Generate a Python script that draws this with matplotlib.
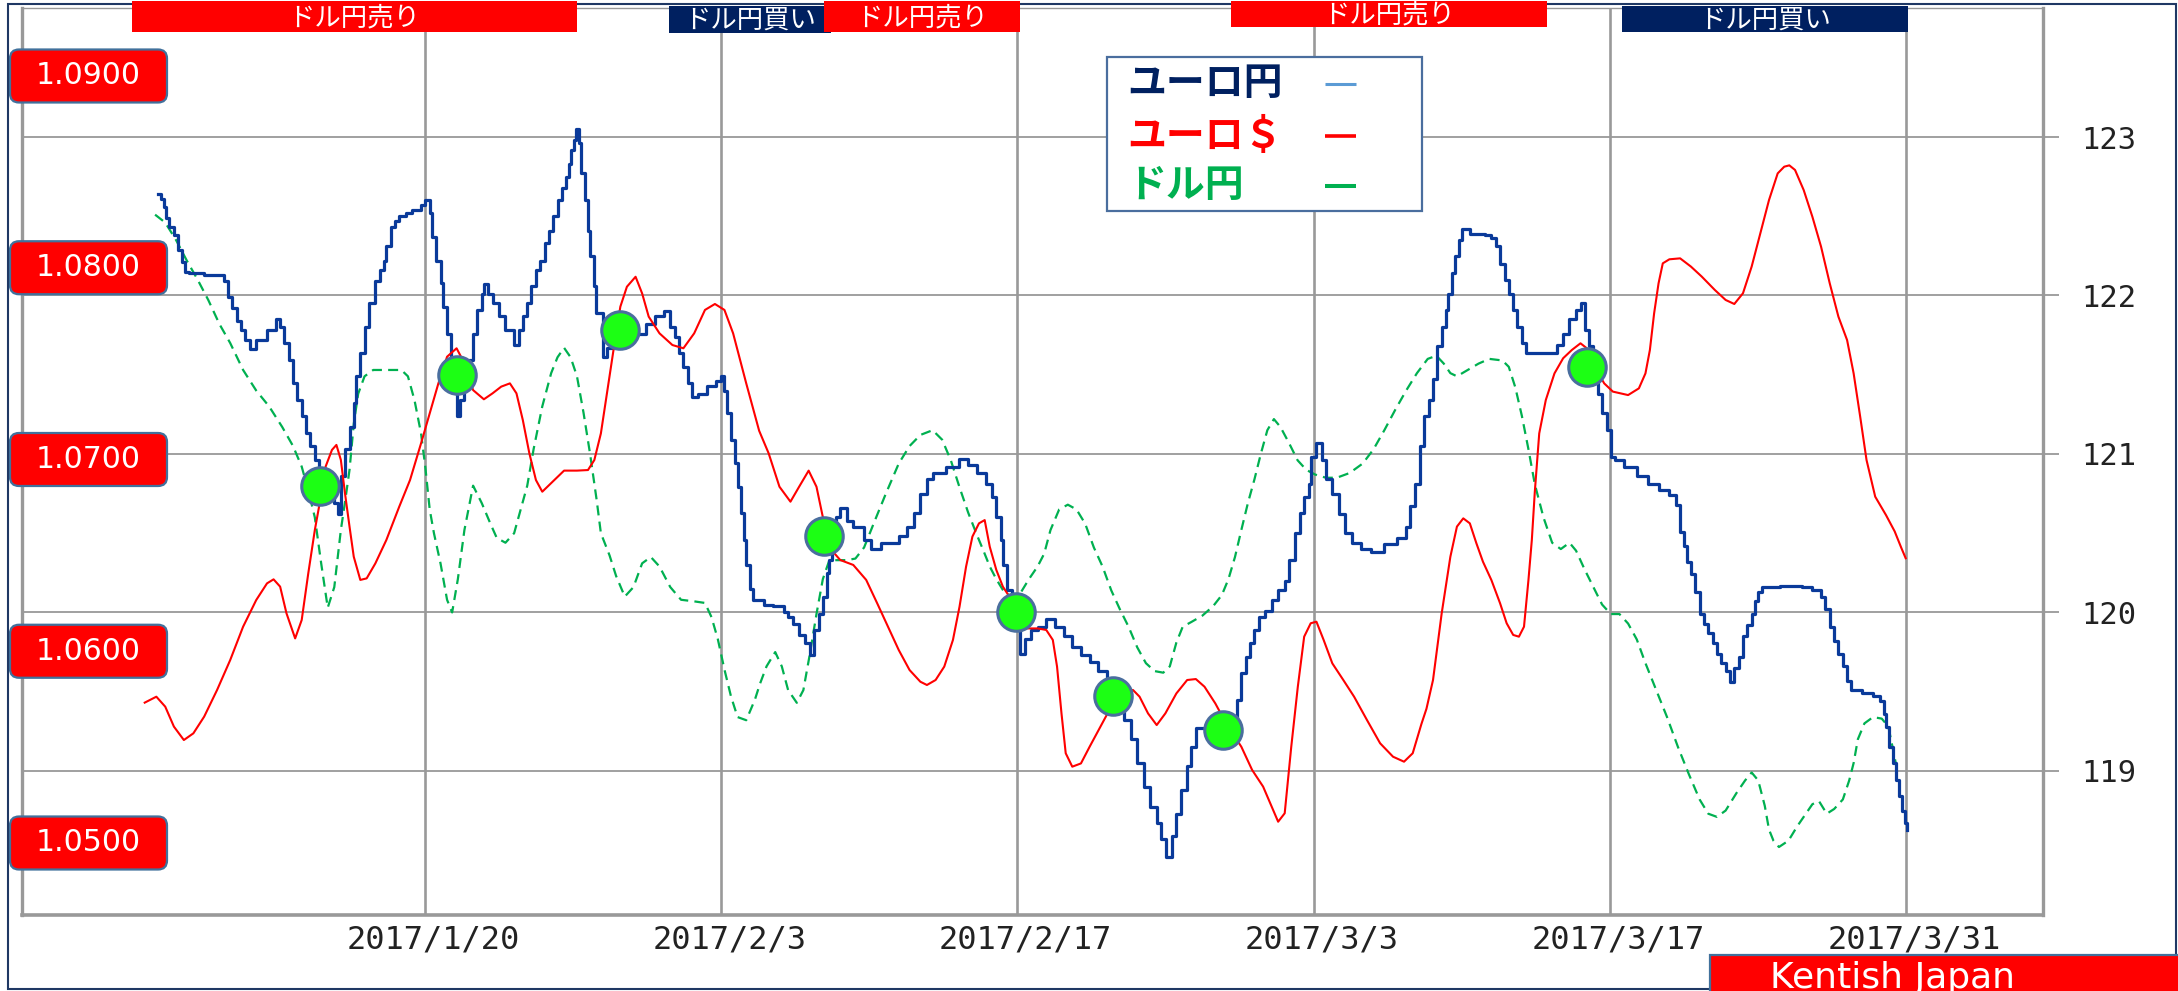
import matplotlib
matplotlib.use("Agg")
import matplotlib.pyplot as plt
import matplotlib.transforms as mtrans
from matplotlib.patches import FancyBboxPatch, Rectangle
from matplotlib.lines import Line2D

plt.rcParams['font.family'] = ['DejaVu Sans', 'Noto Sans CJK JP']

# ---------------- data ----------------
# x positions are day numbers of 2017 (Jan 1 = 1, Feb 3 = 34, Mar 31 = 90)
tick_days = [20, 34, 48, 62, 76, 90]
tick_labels = ['2017/1/20', '2017/2/3', '2017/2/17', '2017/3/3', '2017/3/17', '2017/3/31']
yen_ticks = [119, 120, 121, 122, 123]
eurusd_box_vals = [1.09, 1.08, 1.07, 1.06, 1.05]
eurusd_box_labels = ['1.0900', '1.0800', '1.0700', '1.0600', '1.0500']

# EUR/JPY (right axis)
eurjpy_day = [
    7.37, 7.51, 7.67, 7.76, 7.92, 8.13, 8.33, 8.53, 8.64, 8.84,
    9.56, 10.28, 10.48, 10.69, 10.89, 11.10, 11.30, 11.51, 11.71, 12.02,
    12.53, 12.94, 13.15, 13.35, 13.56, 13.76, 13.97, 14.17, 14.37, 14.58,
    14.79, 14.99, 15.30, 15.50, 15.71, 15.87, 16.02, 16.22, 16.43, 16.63,
    16.73, 16.94, 17.14, 17.35, 17.65, 17.86, 18.06, 18.16, 18.37, 18.58,
    18.78, 19.09, 19.40, 19.81, 20.01, 20.22, 20.32, 20.53, 20.73, 20.83,
    21.04, 21.24, 21.34, 21.49, 21.65, 21.86, 22.06, 22.27, 22.47, 22.68,
    22.80, 22.98, 23.19, 23.50, 23.80, 24.21, 24.42, 24.62, 24.83, 25.03,
    25.24, 25.44, 25.65, 25.85, 26.06, 26.26, 26.47, 26.67, 26.78, 26.88,
    27.02, 27.12, 27.28, 27.39, 27.55, 27.70, 27.80, 28.00, 28.10, 28.41,
    28.61, 29.23, 30.46, 30.87, 31.28, 31.59, 31.80, 32.00, 32.21, 32.41,
    32.61, 32.92, 33.33, 33.74, 34.01, 34.15, 34.25, 34.46, 34.66, 34.80,
    34.95, 35.07, 35.18, 35.38, 35.48, 36.00, 36.45, 36.96, 37.16, 37.37,
    37.68, 37.98, 38.19, 38.39, 38.60, 38.80, 39.01, 39.11, 39.25, 39.42,
    39.62, 39.93, 40.24, 40.75, 41.06, 41.57, 42.39, 42.80, 43.11, 43.41,
    43.72, 44.03, 44.64, 45.22, 45.67, 46.08, 46.49, 46.80, 47.00, 47.21,
    47.31, 47.51, 47.72, 47.92, 48.13, 48.37, 48.64, 48.95, 49.36, 49.77,
    50.18, 50.59, 51.00, 51.41, 51.82, 52.23, 52.64, 53.05, 53.35, 53.66,
    53.97, 54.28, 54.58, 54.79, 55.04, 55.30, 55.51, 55.71, 56.02, 56.22,
    56.43, 57.00, 58.00, 58.37, 58.58, 58.79, 58.99, 59.20, 59.40, 59.71,
    60.02, 60.32, 60.63, 60.83, 61.14, 61.35, 61.55, 61.76, 61.86, 62.10,
    62.37, 62.58, 62.88, 63.19, 63.50, 63.81, 64.22, 64.73, 65.34, 65.96,
    66.37, 66.57, 66.78, 67.02, 67.23, 67.43, 67.64, 67.84, 68.05, 68.25,
    68.36, 68.56, 68.70, 68.87, 69.03, 69.38, 70.10, 70.40, 70.61, 70.81,
    71.02, 71.22, 71.43, 71.63, 71.84, 72.05, 72.76, 73.27, 73.48, 73.79,
    74.09, 74.40, 74.65, 74.81, 75.02, 75.22, 75.43, 75.63, 75.84, 76.04,
    76.25, 76.65, 77.27, 77.78, 78.30, 78.81, 79.11, 79.32, 79.52, 79.63,
    79.83, 80.04, 80.24, 80.45, 80.65, 80.86, 81.06, 81.27, 81.47, 81.68,
    81.88, 82.09, 82.29, 82.50, 82.70, 82.84, 83.01, 83.21, 84.03, 84.75,
    85.06, 85.57, 85.98, 86.19, 86.39, 86.60, 86.80, 87.01, 87.21, 87.41,
    87.93, 88.44, 88.75, 88.95, 89.05, 89.20, 89.36, 89.53, 89.67, 89.81,
    89.94, 90.02]
eurjpy = [
    122.64, 122.61, 122.56, 122.49, 122.43, 122.38, 122.29, 122.21, 122.15, 122.14,
    122.13, 122.13, 122.09, 121.99, 121.92, 121.84, 121.78, 121.72, 121.66, 121.72,
    121.78, 121.85, 121.80, 121.70, 121.59, 121.45, 121.34, 121.24, 121.13, 121.05,
    120.96, 120.85, 120.80, 120.75, 120.69, 120.62, 120.86, 121.03, 121.17, 121.32,
    121.49, 121.64, 121.80, 121.95, 122.09, 122.16, 122.22, 122.31, 122.43, 122.47,
    122.50, 122.52, 122.54, 122.57, 122.60, 122.52, 122.37, 122.22, 122.08, 121.93,
    121.76, 121.59, 121.51, 121.24, 121.34, 121.47, 121.59, 121.76, 121.91, 122.01,
    122.07, 122.01, 121.95, 121.87, 121.78, 121.69, 121.78, 121.87, 121.95, 122.06,
    122.16, 122.22, 122.33, 122.41, 122.50, 122.60, 122.68, 122.75, 122.83, 122.92,
    122.98, 123.05, 122.96, 122.77, 122.60, 122.41, 122.25, 122.06, 121.89, 121.61,
    121.67, 121.76, 121.82, 121.87, 121.90, 121.80, 121.74, 121.64, 121.55, 121.45,
    121.36, 121.38, 121.43, 121.46, 121.49, 121.40, 121.26, 121.09, 120.94, 120.79,
    120.63, 120.46, 120.30, 120.15, 120.08, 120.05, 120.04, 120.00, 119.97, 119.93,
    119.86, 119.81, 119.73, 119.89, 119.99, 120.10, 120.25, 120.33, 120.50, 120.60,
    120.66, 120.58, 120.54, 120.46, 120.40, 120.44, 120.48, 120.54, 120.63, 120.75,
    120.84, 120.88, 120.92, 120.97, 120.93, 120.88, 120.81, 120.73, 120.60, 120.46,
    120.30, 120.14, 120.04, 119.93, 119.74, 119.83, 119.89, 119.91, 119.96, 119.91,
    119.85, 119.78, 119.73, 119.69, 119.63, 119.58, 119.53, 119.32, 119.20, 119.05,
    118.90, 118.77, 118.67, 118.57, 118.46, 118.59, 118.73, 118.88, 119.03, 119.15,
    119.27, 119.27, 119.30, 119.45, 119.62, 119.72, 119.81, 119.89, 119.97, 120.01,
    120.08, 120.14, 120.20, 120.33, 120.50, 120.63, 120.73, 120.81, 120.98, 121.07,
    120.96, 120.84, 120.75, 120.62, 120.50, 120.44, 120.40, 120.38, 120.43, 120.47,
    120.54, 120.67, 120.81, 121.05, 121.24, 121.34, 121.47, 121.68, 121.80, 121.91,
    122.01, 122.14, 122.25, 122.35, 122.42, 122.39, 122.38, 122.36, 122.31, 122.20,
    122.10, 122.01, 121.91, 121.80, 121.70, 121.64, 121.64, 121.64, 121.69, 121.76,
    121.85, 121.91, 121.95, 121.78, 121.68, 121.52, 121.38, 121.26, 121.15, 120.98,
    120.96, 120.92, 120.86, 120.81, 120.77, 120.74, 120.68, 120.51, 120.42, 120.32,
    120.24, 120.13, 119.99, 119.93, 119.87, 119.81, 119.74, 119.68, 119.63, 119.56,
    119.65, 119.72, 119.85, 119.92, 119.99, 120.07, 120.13, 120.16, 120.17, 120.17,
    120.16, 120.14, 120.10, 120.02, 119.91, 119.82, 119.74, 119.66, 119.57, 119.51,
    119.49, 119.47, 119.44, 119.36, 119.28, 119.15, 119.05, 118.94, 118.84, 118.75,
    118.67, 118.63]

# EUR/USD (left scale)
eurusd_day = [
    6.75, 7.30, 7.72, 8.13, 8.60, 9.05, 9.56, 10.17, 10.79, 11.40,
    12.02, 12.53, 12.84, 13.15, 13.45, 13.86, 14.17, 14.48, 14.79, 14.99,
    15.30, 15.60, 15.81, 16.02, 16.22, 16.43, 16.63, 16.94, 17.24, 17.65,
    18.17, 18.78, 19.29, 19.81, 20.22, 20.63, 21.04, 21.49, 21.86, 22.27,
    22.78, 23.19, 23.60, 24.01, 24.32, 24.62, 24.93, 25.24, 25.54, 25.95,
    26.57, 27.18, 27.70, 28.00, 28.31, 28.62, 28.93, 29.23, 29.54, 29.95,
    30.26, 30.57, 31.08, 31.69, 32.21, 32.72, 33.23, 33.70, 34.15, 34.56,
    35.18, 35.79, 36.24, 36.75, 37.27, 37.68, 38.13, 38.50, 38.80, 39.21,
    39.62, 40.24, 40.85, 41.37, 41.88, 42.39, 42.90, 43.41, 43.72, 44.13,
    44.54, 44.95, 45.26, 45.57, 45.87, 46.18, 46.45, 46.69, 47.00, 47.31,
    47.72, 48.13, 48.44, 48.95, 49.36, 49.67, 49.87, 50.08, 50.28, 50.59,
    51.00, 51.41, 51.92, 52.43, 52.90, 53.46, 53.77, 54.17, 54.58, 54.99,
    55.51, 56.02, 56.43, 56.84, 57.35, 57.86, 58.58, 59.09, 59.61, 60.02,
    60.32, 60.63, 60.94, 61.25, 61.55, 61.86, 62.13, 62.47, 62.88, 63.40,
    63.91, 64.52, 65.14, 65.75, 66.27, 66.68, 67.09, 67.33, 67.64, 68.05,
    68.46, 68.77, 69.07, 69.38, 69.69, 70.00, 70.40, 70.81, 71.12, 71.43,
    71.70, 71.94, 72.15, 72.31, 72.45, 72.66, 72.97, 73.38, 73.79, 74.20,
    74.61, 74.91, 75.30, 75.73, 76.14, 76.86, 77.37, 77.68, 77.89, 78.09,
    78.30, 78.50, 78.81, 79.32, 79.83, 80.34, 80.96, 81.47, 81.88, 82.29,
    82.70, 83.11, 83.52, 83.93, 84.24, 84.48, 84.75, 85.16, 85.57, 85.98,
    86.39, 86.80, 87.21, 87.52, 87.83, 88.13, 88.54, 89.05, 89.46, 89.77,
    89.98]
eurusd = [
    1.05732, 1.05763, 1.05711, 1.05607, 1.05537, 1.05572, 1.05659, 1.05798, 1.05954, 1.06128,
    1.06267, 1.06354, 1.06375, 1.06337, 1.06198, 1.06067, 1.06163, 1.06406, 1.06632, 1.06754,
    1.06963, 1.07050, 1.07076, 1.06998, 1.06820, 1.06650, 1.06493, 1.06372, 1.06380, 1.06458,
    1.06580, 1.06754, 1.06893, 1.07084, 1.07241, 1.07397, 1.07536, 1.07580, 1.07502, 1.07362,
    1.07314, 1.07345, 1.07380, 1.07397, 1.07345, 1.07206, 1.07032, 1.06893, 1.06832, 1.06876,
    1.06942, 1.06942, 1.06945, 1.06997, 1.07136, 1.07362, 1.07588, 1.07797, 1.07901, 1.07953,
    1.07866, 1.07745, 1.07658, 1.07597, 1.07580, 1.07658, 1.07780, 1.07811, 1.07780, 1.07658,
    1.07397, 1.07150, 1.07032, 1.06858, 1.06780, 1.06858, 1.06942, 1.06858, 1.06700, 1.06528,
    1.06476, 1.06450, 1.06372, 1.06250, 1.06128, 1.06006, 1.05902, 1.05841, 1.05824, 1.05850,
    1.05920, 1.06059, 1.06232, 1.06441, 1.06598, 1.06667, 1.06684, 1.06545, 1.06424, 1.06337,
    1.06267, 1.06190, 1.06119, 1.06119, 1.06111, 1.06059, 1.05920, 1.05676, 1.05468, 1.05398,
    1.05415, 1.05502, 1.05607, 1.05711, 1.05790, 1.05798, 1.05763, 1.05676, 1.05615, 1.05676,
    1.05780, 1.05850, 1.05855, 1.05815, 1.05728, 1.05624, 1.05502, 1.05381, 1.05294, 1.05189,
    1.05111, 1.05155, 1.05502, 1.05815, 1.06076, 1.06146, 1.06154, 1.06059, 1.05937, 1.05850,
    1.05763, 1.05641, 1.05520, 1.05450, 1.05424, 1.05468, 1.05620, 1.05700, 1.05850, 1.06198,
    1.06493, 1.06650, 1.06693, 1.06667, 1.06563, 1.06467, 1.06371, 1.06250, 1.06146, 1.06085,
    1.06076, 1.06128, 1.06371, 1.06580, 1.06830, 1.07136, 1.07310, 1.07449, 1.07528, 1.07571,
    1.07606, 1.07580, 1.07480, 1.07397, 1.07354, 1.07336, 1.07371, 1.07449, 1.07571, 1.07762,
    1.07919, 1.08023, 1.08044, 1.08049, 1.08006, 1.07954, 1.07884, 1.07832, 1.07811, 1.07867,
    1.08006, 1.08179, 1.08353, 1.08492, 1.08527, 1.08534, 1.08510, 1.08405, 1.08266, 1.08110,
    1.07919, 1.07745, 1.07623, 1.07449, 1.07223, 1.06997, 1.06806, 1.06710, 1.06625, 1.06540,
    1.06485]

# USD/JPY (right axis)
usdjpy_day = [
    7.24, 7.72, 8.23, 8.74, 9.25, 9.76, 10.28, 10.79, 11.40, 12.02,
    12.63, 13.25, 13.76, 14.17, 14.48, 14.79, 15.09, 15.40, 15.71, 16.02,
    16.22, 16.43, 16.63, 16.84, 17.14, 17.55, 18.17, 18.88, 19.19, 19.50,
    19.81, 20.01, 20.22, 20.42, 20.73, 21.04, 21.28, 21.55, 21.86, 22.27,
    22.68, 23.09, 23.39, 23.80, 24.21, 24.52, 24.83, 25.13, 25.54, 25.96,
    26.26, 26.57, 26.88, 27.18, 27.49, 27.80, 28.11, 28.31, 28.72, 29.03,
    29.44, 29.85, 30.26, 30.67, 31.08, 31.59, 32.10, 32.72, 33.23, 33.54,
    33.84, 34.15, 34.46, 34.77, 35.18, 35.59, 35.83, 36.14, 36.55, 36.86,
    37.16, 37.57, 37.88, 38.19, 38.50, 38.80, 39.11, 39.50, 39.93, 40.34,
    40.75, 41.26, 41.78, 42.39, 42.90, 43.41, 43.99, 44.44, 44.85, 45.26,
    45.67, 46.08, 46.39, 46.69, 47.00, 47.41, 47.82, 48.13, 48.54, 48.95,
    49.26, 49.56, 49.97, 50.38, 50.79, 51.20, 51.61, 52.02, 52.43, 52.84,
    53.25, 53.66, 54.07, 54.48, 54.89, 55.20, 55.51, 55.81, 56.22, 56.74,
    57.25, 57.66, 57.97, 58.28, 58.58, 58.89, 59.20, 59.50, 59.81, 60.12,
    60.43, 60.83, 61.24, 61.65, 62.07, 62.58, 63.09, 63.70, 64.32, 64.83,
    65.34, 65.86, 66.37, 66.88, 67.39, 67.80, 68.15, 68.46, 68.77, 69.28,
    69.79, 70.30, 70.92, 71.22, 71.53, 71.84, 72.15, 72.45, 72.86, 73.27,
    73.68, 74.09, 74.40, 74.81, 75.22, 75.63, 76.04, 76.45, 76.86, 77.27,
    77.68, 78.19, 78.70, 79.22, 79.73, 80.24, 80.65, 81.06, 81.47, 81.98,
    82.39, 82.70, 83.01, 83.32, 83.52, 83.73, 83.99, 84.44, 84.85, 85.16,
    85.57, 85.88, 86.25, 86.60, 87.01, 87.31, 87.52, 87.72, 88.03, 88.44,
    88.85, 89.16, 89.36, 89.57]
usdjpy = [
    122.51, 122.46, 122.35, 122.22, 122.10, 121.97, 121.82, 121.70, 121.53, 121.40,
    121.30, 121.17, 121.05, 120.92, 120.77, 120.60, 120.31, 120.03, 120.16, 120.52,
    120.70, 120.90, 121.19, 121.38, 121.49, 121.53, 121.53, 121.53, 121.49, 121.34,
    121.13, 120.92, 120.65, 120.50, 120.31, 120.08, 120.00, 120.21, 120.52, 120.80,
    120.69, 120.56, 120.47, 120.44, 120.50, 120.65, 120.80, 121.03, 121.30, 121.51,
    121.61, 121.67, 121.61, 121.49, 121.26, 121.00, 120.71, 120.50, 120.36, 120.23,
    120.10, 120.16, 120.31, 120.35, 120.29, 120.16, 120.08, 120.07, 120.06, 119.97,
    119.83, 119.64, 119.47, 119.34, 119.32, 119.45, 119.55, 119.66, 119.75, 119.66,
    119.51, 119.43, 119.51, 119.74, 119.99, 120.21, 120.33, 120.33, 120.33, 120.34,
    120.41, 120.58, 120.75, 120.94, 121.05, 121.12, 121.15, 121.09, 120.96, 120.79,
    120.63, 120.49, 120.39, 120.29, 120.21, 120.12, 120.10, 120.12, 120.21, 120.29,
    120.37, 120.52, 120.65, 120.68, 120.65, 120.56, 120.41, 120.29, 120.14, 120.02,
    119.91, 119.78, 119.68, 119.63, 119.62, 119.66, 119.81, 119.91, 119.94, 119.98,
    120.04, 120.11, 120.21, 120.35, 120.52, 120.69, 120.84, 121.00, 121.15, 121.22,
    121.17, 121.07, 120.96, 120.90, 120.87, 120.85, 120.85, 120.88, 120.94, 121.03,
    121.15, 121.28, 121.40, 121.51, 121.60, 121.62, 121.57, 121.51, 121.49, 121.53,
    121.57, 121.60, 121.59, 121.55, 121.42, 121.24, 121.03, 120.81, 120.60, 120.44,
    120.40, 120.44, 120.39, 120.27, 120.16, 120.05, 119.99, 119.99, 119.93, 119.83,
    119.68, 119.51, 119.34, 119.15, 118.98, 118.82, 118.73, 118.71, 118.75, 118.86,
    118.94, 118.99, 118.94, 118.78, 118.63, 118.56, 118.52, 118.56, 118.65, 118.71,
    118.79, 118.81, 118.73, 118.76, 118.82, 118.94, 119.05, 119.20, 119.30, 119.34,
    119.33, 119.28, 119.15, 119.01]

# green signal markers (on the yen scale)
dot_day = [15.03, 21.49, 29.23, 38.84, 47.92, 52.53, 57.72, 74.91]
dot_yen = [120.80, 121.50, 121.78, 120.48, 120.00, 119.47, 119.26, 121.55]

# signal banners along the top (start day, end day)
banner_text = ['ドル円売り', 'ドル円買い', 'ドル円売り', 'ドル円売り', 'ドル円買い']
banner_start = [6.15, 31.53, 38.86, 58.09, 76.57]
banner_end = [27.18, 39.20, 48.12, 73.02, 90.09]
banner_kind = ['sell', 'buy', 'sell', 'sell', 'buy']

legend_labels = ['ユーロ円', 'ユーロ＄', 'ドル円']

# ---------------- figure ----------------
W, H = 2178, 991
fig = plt.figure(figsize=(W / 100, H / 100), dpi=100)
fig.patch.set_facecolor('white')
ID = mtrans.IdentityTransform()

GRID = '#999999'
ax = fig.add_axes([22 / W, 1 - 915 / H, (2043 - 22) / W, (915 - 8) / H])
ax_eu = ax.twinx()

ax.set_xlim(0.95, 96.47)
ax.set_ylim(118.091, 123.814)
ax_eu.set_ylim(1.046245, 1.093546)

ax.set_xticks(tick_days)
ax.set_xticklabels(tick_labels, family='DejaVu Sans Mono', fontsize=23, color='#222222')
ax.set_yticks(yen_ticks)
ax.set_yticklabels([str(v) for v in yen_ticks], family='DejaVu Sans Mono', fontsize=22, color='#222222')
ax.yaxis.set_ticks_position('right')
ax.tick_params(axis='x', length=0, pad=7)
ax.tick_params(axis='y', which='both', length=11.5, width=1.3, color=GRID, pad=16, left=False, right=True)
for lab in ax.get_xticklabels():
    lab.set_transform(lab.get_transform() + mtrans.ScaledTranslation(0.08, 0, fig.dpi_scale_trans))

ax.xaxis.grid(True, color=GRID, lw=1.9)
ax.yaxis.grid(True, color=GRID, lw=1.3)
ax.set_axisbelow(True)
for side, lw in [('left', 2.4), ('bottom', 2.6), ('right', 2.4), ('top', 1.0)]:
    ax.spines[side].set_color(GRID)
    ax.spines[side].set_linewidth(lw)
for s in ax_eu.spines.values():
    s.set_visible(False)
ax_eu.yaxis.set_visible(False)

# series
ax.plot(usdjpy_day, usdjpy, color='#00B050', lw=1.6, dashes=(4.5, 2.8), zorder=3)
ax.plot(eurjpy_day, eurjpy, color='#0A3A9A', lw=2.3, drawstyle='steps-post', zorder=4)
ax_eu.plot(eurusd_day, eurusd, color='#FF0000', lw=1.5, zorder=3)
ax_eu.plot(dot_day, dot_yen, 'o', ms=27, mfc='#1CFF14', mec='#4A6E9E', mew=2.2,
           transform=ax.transData, zorder=6)
ax_eu.set_ylim(1.046245, 1.093546)
ax.set_xlim(0.95, 96.47)

# EUR/USD label boxes on the left
fig.canvas.draw()
for v, lab in zip(eurusd_box_vals, eurusd_box_labels):
    yd = ax_eu.transData.transform((50, v))[1]
    box = FancyBboxPatch((10, yd - 26.5), 157, 53, boxstyle='round,pad=0,rounding_size=9',
                         fc='#FF0000', ec='#41719C', lw=1.6, transform=ID, zorder=20)
    fig.add_artist(box)
    fig.text(88.5, yd, lab, transform=ID, ha='center', va='center', color='white',
             fontsize=21.5, family='DejaVu Sans', zorder=21)

# banners at top
btrans = mtrans.blended_transform_factory(ax.transData, ID)
for txt, x0, x1, kind in zip(banner_text, banner_start, banner_end, banner_kind):
    if kind == 'sell':
        col, top, bot = '#FF0000', 1, 32
    else:
        col, top, bot = '#002060', 6, 33
    if x0 > 55:
        top, bot = (1, 27) if kind == 'sell' else (6, 32)
    r = Rectangle((x0, H - bot), x1 - x0, bot - top, transform=btrans, fc=col, ec='none',
                  zorder=30, clip_on=False)
    fig.add_artist(r)
    fig.text((x0 + x1) / 2, H - (top + bot) / 2 - 1, txt, transform=btrans, ha='center',
             va='center', color='white', fontsize=19, family=['Noto Sans CJK JP'], zorder=31)

# legend box
fig.add_artist(Rectangle((1107, H - 211), 315, 154, transform=ID, fc='white',
                         ec='#4A6E9E', lw=1.6, zorder=25))
leg_cols = ['#002060', '#FF0000', '#00B050']
leg_line_cols = ['#5B9BD5', '#FF0000', '#00B050']
leg_y = [84, 136, 186]
leg_lw = [2.2, 2.6, 2.9]
for lab, c, lc, yy, llw in zip(legend_labels, leg_cols, leg_line_cols, leg_y, leg_lw):
    fig.text(1127, H - yy, lab, transform=ID, ha='left', va='center', color=c,
             fontsize=28, fontweight='bold', family=['Noto Sans CJK JP'], zorder=26)
    fig.add_artist(Line2D([1325, 1356], [H - yy, H - yy], transform=ID, color=lc,
                          lw=llw, zorder=26, solid_capstyle='butt'))

# Kentish Japan label
fig.add_artist(Rectangle((1710, -6), 480, 42, transform=ID, fc='#FF0000', ec='#41719C',
                         lw=1.6, zorder=25))
fig.text(1892, 3, 'Kentish Japan', transform=ID, ha='center', va='baseline', color='white',
         fontsize=26, family='DejaVu Sans', zorder=26)

# outer border
fig.add_artist(Rectangle((8, 2), 2168, 985, transform=ID, fc='none', ec='#1F3864',
                         lw=1.5, zorder=24))

fig.savefig('out.png', dpi=100, facecolor='white')
